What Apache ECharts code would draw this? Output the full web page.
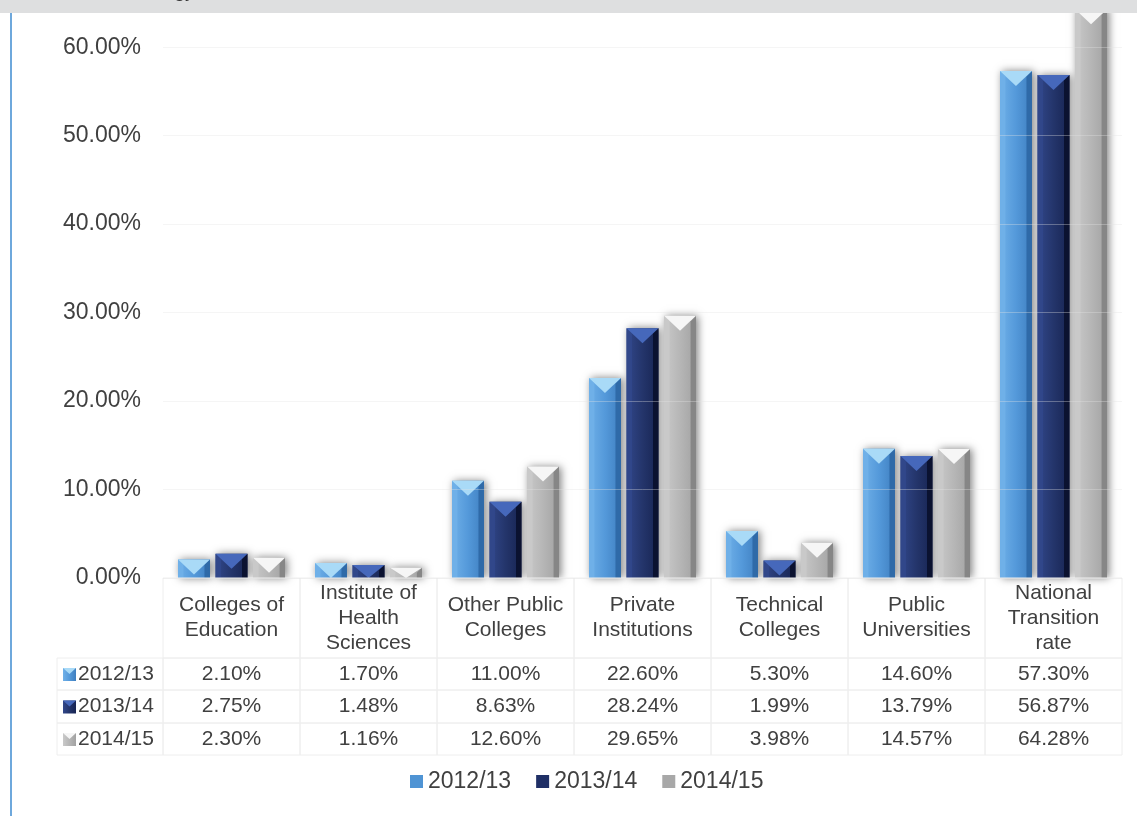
<!DOCTYPE html>
<html>
<head>
<meta charset="utf-8">
<script src="https://cdn.jsdelivr.net/npm/echarts@6/dist/echarts.min.js"></script>
<style>
html,body{margin:0;padding:0;background:#fff;}
#chart{width:1137px;height:816px;}
</style>
</head>
<body>
<div id="chart"></div>
<script>
// ---- data ----
const categories = ["Colleges of\nEducation", "Institute of\nHealth\nSciences", "Other Public\nColleges", "Private\nInstitutions", "Technical\nColleges", "Public\nUniversities", "National\nTransition\nrate"];
const seriesNames = ["2012/13", "2013/14", "2014/15"];
const values2012 = [2.10, 1.70, 11.00, 22.60, 5.30, 14.60, 57.30];
const values2013 = [2.75, 1.48, 8.63, 28.24, 1.99, 13.79, 56.87];
const values2014 = [2.30, 1.16, 12.60, 29.65, 3.98, 14.57, 64.28];
const yTicks = [0, 10, 20, 30, 40, 50, 60];
const headerText = "Technology";

// ---- styling ----
const FONT = '"Liberation Sans", Arial, sans-serif';
const TXT = '#404040';
const palettes = [
  {base: '#5499da', l: '#6fb0e8', r: '#3f7fc0', edgeR: '#2f6aa8', top: '#a9daf7', legend: '#4f94d4'},
  {base: '#24356b', l: '#31478a', r: '#172452', edgeR: '#0b1230', top: '#4668bb', legend: '#1f2f66'},
  {base: '#b6b6b6', l: '#c9c9c9', r: '#a2a2a2', edgeR: '#868686', top: '#f6f6f6', legend: '#a8a8a8'}
];
const allValues = [values2012, values2013, values2014];

function bevelRender(sIdx) {
  const p = palettes[sIdx];
  return function (params, api) {
    const i = api.value(0), v = api.value(1);
    const top = api.coord([i, v]);
    const base = api.coord([i, 0]);
    const bw = api.size([1, 0])[0];
    const w = bw * 0.233;
    const cx = top[0] + (sIdx - 1) * bw * 0.274;
    const x0 = cx - w / 2, x1 = cx + w / 2, yT = top[1], yB = base[1];
    const h = yB - yT;
    const b = Math.min(w * 0.17, h / 2);
    const d = Math.min(w * 0.47, h);
    return {
      type: 'group',
      children: [
        {type: 'rect', shape: {x: x0, y: yT, width: w, height: h},
          style: {fill: new echarts.graphic.LinearGradient(0, 0, 1, 0, [
            {offset: 0, color: p.l}, {offset: 0.5, color: p.base}, {offset: 1, color: p.r}]),
            shadowBlur: 8, shadowColor: 'rgba(0,0,0,0.5)', shadowOffsetX: 2}},
        {type: 'polygon', shape: {points: [[x0, yT], [x0 + b, yT + b], [x0 + b, yB], [x0, yB]]},
          style: {fill: p.l}},
        {type: 'polygon', shape: {points: [[x1, yT], [x1 - b, yT + b], [x1 - b, yB], [x1, yB]]},
          style: {fill: p.edgeR}},
        {type: 'polygon', shape: {points: [[x0, yT], [x1, yT], [cx, yT + d]]},
          style: {fill: p.top}}
      ]
    };
  };
}

const rowEdges = [0, 80, 112, 145, 177];
function tableRender(params, api) {
  const i = api.value(0);
  const bw = api.size([1, 0])[0];
  const cx = api.coord([i, 0])[0];
  const x0 = cx - bw / 2;
  const ys = rowEdges.map(r => api.coord([i, r])[1]);
  const children = [];
  for (let r = 0; r < 4; r++) {
    children.push({type: 'rect', shape: {x: x0, y: ys[r], width: bw, height: ys[r + 1] - ys[r]},
      style: {fill: 'none', stroke: '#eeeeee', lineWidth: 1}});
    const txt = r === 0 ? categories[i] : allValues[r - 1][i].toFixed(2) + '%';
    children.push({type: 'text', style: {text: txt, x: cx, y: (ys[r] + ys[r + 1]) / 2,
      align: 'center', verticalAlign: 'middle', font: '21px ' + FONT, lineHeight: 25, fill: TXT}});
  }
  if (i === 0) {
    const lw = 106;
    for (let r = 1; r < 4; r++) {
      const p = palettes[r - 1];
      const ym = (ys[r] + ys[r + 1]) / 2;
      children.push({type: 'rect', shape: {x: x0 - lw, y: ys[r], width: lw, height: ys[r + 1] - ys[r]},
        style: {fill: 'none', stroke: '#eeeeee', lineWidth: 1}});
      children.push({type: 'rect', shape: {x: x0 - lw + 6, y: ym - 6, width: 13, height: 13},
        style: {fill: new echarts.graphic.LinearGradient(0, 0, 1, 0, [
          {offset: 0, color: p.l}, {offset: 0.5, color: p.base}, {offset: 1, color: p.r}])}});
      children.push({type: 'polygon', shape: {points: [[x0 - lw + 6, ym - 6], [x0 - lw + 19, ym - 6], [x0 - lw + 12.5, ym]]},
        style: {fill: p.top}});
      children.push({type: 'text', style: {text: seriesNames[r - 1], x: x0 - lw + 21, y: ym,
        align: 'left', verticalAlign: 'middle', font: '21px ' + FONT, fill: TXT}});
    }
  }
  return {type: 'group', children: children};
}

const chart = echarts.init(document.getElementById('chart'));
const option = {
  animation: false,
  backgroundColor: '#ffffff',
  textStyle: {fontFamily: FONT},
  grid: [
    {left: 163, right: 15, top: 3, height: 575},
    {left: 163, right: 15, top: 578, height: 177}
  ],
  xAxis: [
    {type: 'category', gridIndex: 0, data: categories, axisLine: {show: false}, axisTick: {show: false}, axisLabel: {show: false}},
    {type: 'category', gridIndex: 1, data: categories, show: false}
  ],
  yAxis: [
    {type: 'value', gridIndex: 0, min: yTicks[0], max: 65, interval: 10, z: 5,
      axisLine: {show: false}, axisTick: {show: false},
      axisLabel: {formatter: v => v.toFixed(2) + '%', fontSize: 23, color: TXT, margin: 22, showMaxLabel: false, fontFamily: FONT},
      splitLine: {lineStyle: {color: 'rgba(225,225,225,0.35)', width: 1}}},
    {type: 'value', gridIndex: 1, min: 0, max: 177, inverse: true, show: false}
  ],
  legend: {
    data: seriesNames, left: 405, top: 765, itemWidth: 13, itemHeight: 13, itemGap: 25, icon: 'rect',
    textStyle: {fontSize: 23, color: TXT, fontFamily: FONT}
  },
  series: [
    ...seriesNames.map((n, s) => ({
      type: 'custom', name: n, xAxisIndex: 0, yAxisIndex: 0, z: 2,
      itemStyle: {color: palettes[s].legend},
      renderItem: bevelRender(s),
      encode: {x: 0, y: 1},
      data: allValues[s].map((v, i) => [i, v])
    })),
    {type: 'custom', name: 'table', xAxisIndex: 1, yAxisIndex: 1, silent: true, clip: false,
      renderItem: tableRender, encode: {x: 0, y: 1},
      data: categories.map((c, i) => [i, 0])}
  ],
  graphic: [
    {type: 'rect', left: 0, top: 0, z: 100, shape: {width: 1137, height: 13}, style: {fill: '#dedfe0'}},
    {type: 'text', z: 101, x: 195, y: -9, style: {text: headerText, align: 'right', verticalAlign: 'middle', font: '20px ' + FONT, fill: '#333'}},
    {type: 'rect', left: 10, top: 13, z: 100, shape: {width: 2, height: 803}, style: {fill: '#6ea8dc'}}
  ]
};
chart.setOption(option);
</script>
</body>
</html>
